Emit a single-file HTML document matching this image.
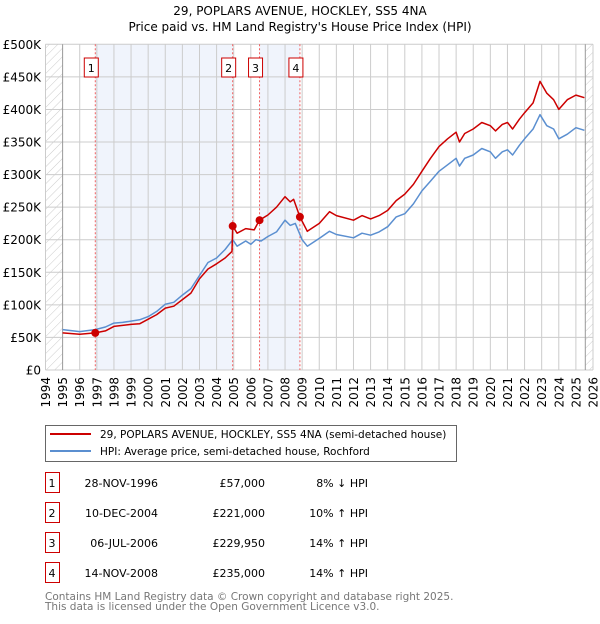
<!DOCTYPE html>
<html><head><meta charset="utf-8"><style>
body{margin:0;background:#fff;font-family:"DejaVu Sans","Liberation Sans",sans-serif;}
svg text{font-family:"DejaVu Sans","Liberation Sans",sans-serif;}
</style></head><body>
<svg id="chart" width="600" height="620" xmlns="http://www.w3.org/2000/svg">
<defs><pattern id="hatch" width="6" height="6" patternUnits="userSpaceOnUse" patternTransform="rotate(45)"><line x1="0" y1="0" x2="0" y2="6" stroke="#ccc" stroke-width="1"/></pattern></defs>
<text x="300" y="15" text-anchor="middle" font-size="12">29, POPLARS AVENUE, HOCKLEY, SS5 4NA</text>
<text x="300" y="31" text-anchor="middle" font-size="12">Price paid vs. HM Land Registry's House Price Index (HPI)</text>
<g id="plot"></g>
<g>
<rect x="45.5" y="425.5" width="411" height="36" fill="#fff" stroke="#666"/>
<line x1="50" y1="434" x2="91" y2="434" stroke="#cc0000" stroke-width="2"/>
<text x="100" y="438" font-size="10.5">29, POPLARS AVENUE, HOCKLEY, SS5 4NA (semi-detached house)</text>
<line x1="50" y1="451" x2="91" y2="451" stroke="#5b8fd0" stroke-width="2"/>
<text x="100" y="455" font-size="10.5">HPI: Average price, semi-detached house, Rochford</text>
</g>
<g id="table" font-size="11"></g>
<text x="45" y="600" font-size="10.5" fill="#777">Contains HM Land Registry data © Crown copyright and database right 2025.</text>
<text x="45" y="610" font-size="10.5" fill="#777">This data is licensed under the Open Government Licence v3.0.</text>
</svg>
<script>
const hpiYears=[1995,1996,1996.9,1997.5,1998,1998.5,1999,1999.5,2000,2000.5,2001,2001.5,2002,2002.5,2003,2003.5,2004,2004.5,2004.94,2005.2,2005.7,2006,2006.3,2006.6,2007,2007.5,2008,2008.3,2008.6,2009,2009.3,2010,2010.6,2011,2012,2012.5,2013,2013.5,2014,2014.5,2015,2015.5,2016,2016.5,2017,2017.5,2018,2018.2,2018.5,2019,2019.5,2020,2020.3,2020.7,2021,2021.3,2021.7,2022,2022.5,2022.9,2023.3,2023.7,2024,2024.5,2025,2025.5];
const hpiValues=[62,59,62,66,72,73,75,77,82,90,101,104,115,125,145,165,172,185,200,190,198,193,200,198,205,212,230,222,225,200,190,202,213,208,203,210,207,212,220,235,240,255,275,290,305,315,325,313,325,330,340,335,325,335,338,330,345,355,370,392,375,370,355,362,372,368];
const priceYears=[1995,1996,1996.9,1997.5,1998,1999,1999.5,2000,2000.5,2001,2001.5,2002,2002.5,2003,2003.5,2004,2004.5,2004.9,2004.94,2005.2,2005.7,2006.2,2006.5,2007,2007.5,2008,2008.3,2008.5,2008.87,2009.3,2010,2010.6,2011,2012,2012.5,2013,2013.5,2014,2014.5,2015,2015.5,2016,2016.5,2017,2017.5,2018,2018.2,2018.5,2019,2019.5,2020,2020.3,2020.7,2021,2021.3,2021.7,2022,2022.5,2022.9,2023.3,2023.7,2024,2024.5,2025,2025.5];
const priceValues=[57,55,57,60,67,70,71,78,85,95,98,108,118,140,155,163,172,182,221,210,217,215,230,238,250,266,258,262,235,213,225,243,237,230,237,232,237,245,260,270,285,305,325,343,355,365,350,363,370,380,375,367,377,380,370,385,395,410,443,425,415,400,415,422,418];
const saleLabels=["1","2","3","4"];
const saleYears=[1996.91,2004.94,2006.51,2008.87];
const saleValues=[57,221,229.95,235];
const saleDates=["28-NOV-1996","10-DEC-2004","06-JUL-2006","14-NOV-2008"];
const salePrices=["£57,000","£221,000","£229,950","£235,000"];
const saleDiffs=["8% ↓ HPI","10% ↑ HPI","14% ↑ HPI","14% ↑ HPI"];
const yTicks=[0,50,100,150,200,250,300,350,400,450,500];
const yTickLabels=["£0","£50K","£100K","£150K","£200K","£250K","£300K","£350K","£400K","£450K","£500K"];
const xTicks=[1994,1995,1996,1997,1998,1999,2000,2001,2002,2003,2004,2005,2006,2007,2008,2009,2010,2011,2012,2013,2014,2015,2016,2017,2018,2019,2020,2021,2022,2023,2024,2025,2026];

const NS="http://www.w3.org/2000/svg";
const X0=45.5,X1=593,Y0=370,Y1=44.3;
const xs=y=>X0+(y-1994)/32*(X1-X0);
const ys=v=>Y0-v/500*(Y0-Y1);
const plot=document.getElementById('plot');
function mk(tag,attrs,parent){const e=document.createElementNS(NS,tag);for(const k in attrs)e.setAttribute(k,attrs[k]);(parent||plot).appendChild(e);return e;}

let e;
e=mk('rect',{x:xs(1994),y:Y1,width:xs(1995)-xs(1994),height:Y0-Y1,fill:'url(#hatch)'});


e=mk('rect',{x:xs(2025.55),y:Y1,width:X1-xs(2025.55),height:Y0-Y1,fill:'url(#hatch)'});


e=mk('rect',{x:xs(saleYears[0]),y:Y1,width:xs(saleYears[1])-xs(saleYears[0]),height:Y0-Y1,fill:'#f0f4fc'});


e=mk('rect',{x:xs(saleYears[2]),y:Y1,width:xs(saleYears[3])-xs(saleYears[2]),height:Y0-Y1,fill:'#f0f4fc'});



yTicks.forEach((t,i)=>{
  const l=mk('line',{x1:X0,x2:X1,y1:ys(t),y2:ys(t),stroke:'#ccc','stroke-width':1});
  
  
  const tx=mk('text',{x:41,y:ys(t)+4.5,'text-anchor':'end','font-size':'12'});
  tx.textContent=yTickLabels[i];
  
  
});
xTicks.forEach(t=>{
  const l=mk('line',{x1:xs(t),x2:xs(t),y1:Y1,y2:Y0,stroke:t===1995?'#999':'#ccc','stroke-width':1});
  
  
  const tx=mk('text',{x:0,y:0,'text-anchor':'end','font-size':'12',transform:`translate(${xs(t)+4.5},377) rotate(-90)`});
  tx.textContent=t;
  
  
});
e=mk('line',{x1:xs(2025.55),x2:xs(2025.55),y1:Y1,y2:Y0,stroke:'#999'});



saleYears.forEach((y,i)=>{
  const l=mk('line',{x1:xs(y),x2:xs(y),y1:Y1,y2:Y0,stroke:'#f06060','stroke-dasharray':'2,2','stroke-width':1});
  
  
  const r=mk('rect',{x:xs(y)-11,y:58,width:14,height:19,fill:'#fff',stroke:'#cc0000','stroke-width':1});
  
  
  const t=mk('text',{x:xs(y)-4,y:72,'text-anchor':'middle','font-size':'11'});
  t.textContent=saleLabels[i];
  
  
});

const pathOf=(xa,va)=>xa.map((x,i)=>(i?'L':'M')+xs(x).toFixed(1)+','+ys(va[i]).toFixed(1)).join('');
e=mk('path',{d:pathOf(hpiYears,hpiValues),fill:'none',stroke:'#5b8fd0','stroke-width':1.5,'stroke-linejoin':'round'});


e=mk('path',{d:pathOf(priceYears,priceValues),fill:'none',stroke:'#cc0000','stroke-width':1.5,'stroke-linejoin':'round'});


saleYears.forEach((y,i)=>{
  const c=mk('circle',{cx:xs(y),cy:ys(saleValues[i]),r:4,fill:'#cc0000'});
  
  
});

const tbl=document.getElementById('table');
saleLabels.forEach((s,i)=>{
  const cy=483+i*30;
  const r=mk('rect',{x:45.5,y:cy-10.5,width:14,height:20,fill:'#fff',stroke:'#cc0000'},tbl);
  
  
  const cells=[[52,'middle',s],[158,'end',saleDates[i]],[265,'end',salePrices[i]],[368,'end',saleDiffs[i]]];
  cells.forEach(([x,a,txt])=>{
    const t=mk('text',{x:x,y:cy+4,'text-anchor':a},tbl);
    t.textContent=txt;
    
    
  });
});
</script>
</body></html>
